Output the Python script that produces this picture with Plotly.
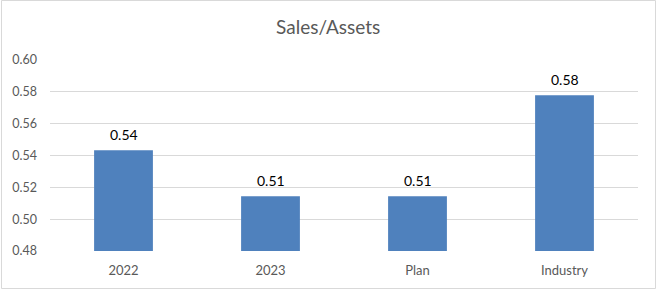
import plotly.graph_objects as go

categories = ["2022", "2023", "Plan", "Industry"]
values = [0.5433, 0.5144, 0.5144, 0.5779]
y_ticks = [0.48, 0.50, 0.52, 0.54, 0.56, 0.58, 0.60]

W, H = 663, 292
L, R, T, B = 50, 25, 60, 41

fig = go.Figure(go.Bar(
    x=categories, y=values,
    marker=dict(color="#4F81BD", line=dict(width=0)),
    cliponaxis=False, width=0.4,
))

# data labels, placed at category index through the axis scale
for i, v in enumerate(values):
    fig.add_annotation(x=i, y=v, text=f"{v:.2f}", showarrow=False,
                       yanchor="middle", yshift=16,
                       font=dict(family="Lato", size=14, color="#000000"))

pw, ph = W - L - R, H - T - B
def px(x): return (x - L) / pw
def py(y): return (H - B - y) / ph

fig.update_layout(
    width=W, height=H,
    margin=dict(l=L, r=R, t=T, b=B),
    paper_bgcolor="white", plot_bgcolor="white",
    showlegend=False,
    title=dict(text="Sales/Assets", x=0.495, xanchor="center", y=1 - 27 / H, yanchor="middle",
               font=dict(family="Lato", size=19, color="#595959")),
    xaxis=dict(type="category", categoryorder="array", categoryarray=categories,
               range=[-0.5, len(categories) - 0.5],
               showgrid=False, showline=False, ticks="", zeroline=False,
               ticklabelstandoff=10,
               tickfont=dict(family="Lato", size=13, color="#595959")),
    yaxis=dict(range=[0.48, 0.60], tickvals=y_ticks, tickformat=".2f",
               showgrid=True, gridcolor="#D9D9D9", gridwidth=1, zeroline=False,
               showline=False, ticks="", ticklabelstandoff=12,
               tickfont=dict(family="Lato", size=12.5, color="#595959")),
    shapes=[dict(type="rect", xref="paper", yref="paper",
                 x0=px(1.5), x1=px(655.5), y0=py(288.5), y1=py(0.5),
                 line=dict(color="#D9D9D9", width=1), layer="below")],
)

fig.write_html("out.html")
